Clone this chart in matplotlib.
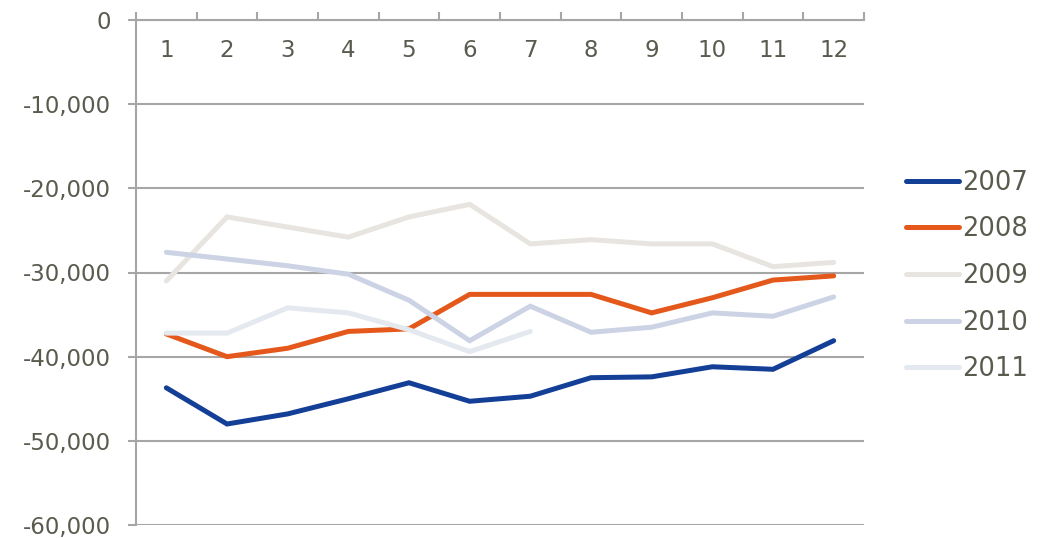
import matplotlib.pyplot as plt
import numpy as np

months = [1, 2, 3, 4, 5, 6, 7, 8, 9, 10, 11, 12]
y2007 = [-43700, -48000, -46800, -45000, -43100, -45300, -44700, -42500, -42400, -41200, -41500, -38100]
y2008 = [-37300, -40000, -39000, -37000, -36700, -32600, -32600, -32600, -34800, -33000, -30900, -30400]
y2009 = [-31000, -23400, -24600, -25800, -23400, -21900, -26600, -26100, -26600, -26600, -29300, -28800]
y2010 = [-27600, -28400, -29200, -30200, -33300, -38100, -34000, -37100, -36500, -34800, -35200, -32900]
y2011 = [-37200, -37200, -34200, -34800, -36800, -39400, -37000]

series = [("2007", y2007, "#143f96"),
          ("2008", y2008, "#e4581b"),
          ("2009", y2009, "#e8e5e0"),
          ("2010", y2010, "#ccd3e5"),
          ("2011", y2011, "#e4e8ef")]

txt = "#5a5a4e"
gc = "#a6a6a6"

fig = plt.figure(figsize=(10.42, 5.38), dpi=100)
ax = fig.add_axes([136/1042, 1-525/538, (864-136)/1042, (525-20)/538])

for name, vals, col in series:
    ax.plot(months[:len(vals)], vals, color=col, lw=3.6, label=name,
            solid_capstyle='round', solid_joinstyle='miter')

ax.set_xlim(0.5, 12.5)
ax.set_ylim(-60000, 0)
ax.set_yticks(np.arange(-60000, 1, 10000))
ax.set_yticklabels([f"{v:,}" for v in range(-60000, 1, 10000)])
ax.grid(axis='y', color=gc, lw=1.5)
ax.set_axisbelow(True)

for s in ['right', 'bottom']:
    ax.spines[s].set_visible(False)
for s in ['left', 'top']:
    ax.spines[s].set_color(gc)
    ax.spines[s].set_linewidth(1.5)

ax.xaxis.tick_top()
ax.set_xticks(months)
ax.set_xticks(np.arange(0.5, 12.6, 1), minor=True)
ax.tick_params(axis='x', which='major', length=0, pad=-30, labelsize=16.5, labelcolor=txt)
ax.tick_params(axis='x', which='minor', length=6, width=1.5, color=gc)
ax.tick_params(axis='y', length=6, width=1.5, color=gc, pad=12, labelsize=16.5, labelcolor=txt)

leg = fig.legend(loc='center left', bbox_to_anchor=(883/1042, 1-276/538), frameon=False,
                 fontsize=18.5, handlelength=2.05, handletextpad=0.12, labelspacing=0.80)
for t in leg.get_texts():
    t.set_color(txt)

fig.savefig("out.png", dpi=100)
